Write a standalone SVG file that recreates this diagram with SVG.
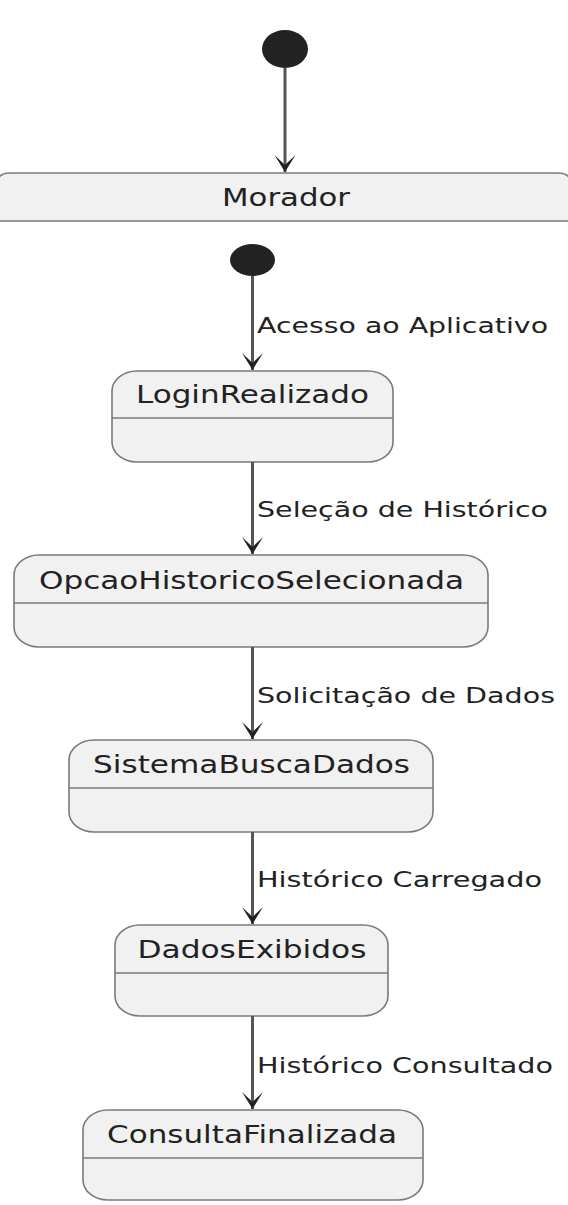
<svg xmlns="http://www.w3.org/2000/svg" width="568" height="1205" viewBox="0 0 568 1205">
<style>
.box{fill:#F1F1F1;stroke:#7a7a7a;stroke-width:1.6}
.div{stroke:#7a7a7a;stroke-width:1.6}
.name{font-family:"DejaVu Sans",sans-serif;font-size:24px;fill:#222;text-anchor:middle}
.lbl{font-family:"DejaVu Sans",sans-serif;font-size:22px;fill:#222}
.edge{stroke:#555;stroke-width:3;fill:none}
.start{fill:#222}
</style>
<defs>
<marker id="arr" markerUnits="userSpaceOnUse" markerWidth="20" markerHeight="24" viewBox="-19 -12 20 24" refX="0" refY="0" orient="auto">
<path d="M0,0 L-17,-10.5 L-7,0 L-17,10.5 Z" fill="#222"/>
</marker>
</defs>
<rect width="568" height="1205" fill="#ffffff"/>
<g id="start-outer">
<ellipse class="start" cx="285" cy="49" rx="23" ry="19"/>
</g>
<g id="Morador">
<path d="M-4,221 L-4,187 Q-4,173 10,173 L558,173 Q572,173 572,187 L572,221" class="box"/>
<line x1="-4" y1="221" x2="572" y2="221" class="div"/>
<text class="name" x="286" y="206" textLength="128" lengthAdjust="spacingAndGlyphs">Morador</text>
</g>
<g id="start-inner">
<ellipse class="start" cx="252.5" cy="260" rx="22.5" ry="16"/>
</g>
<g id="LoginRealizado">
<rect class="box" x="112" y="371" width="281" height="91" rx="25" ry="20"/>
<line class="div" x1="112" y1="418" x2="393" y2="418"/>
<text class="name" x="252.5" y="403" textLength="233" lengthAdjust="spacingAndGlyphs">LoginRealizado</text>
</g>
<g id="OpcaoHistoricoSelecionada">
<rect class="box" x="14" y="555" width="474" height="92" rx="25" ry="20"/>
<line class="div" x1="14" y1="603" x2="488" y2="603"/>
<text class="name" x="251.5" y="589" textLength="425" lengthAdjust="spacingAndGlyphs">OpcaoHistoricoSelecionada</text>
</g>
<g id="SistemaBuscaDados">
<rect class="box" x="69" y="740" width="364" height="92" rx="25" ry="20"/>
<line class="div" x1="69" y1="788" x2="433" y2="788"/>
<text class="name" x="251.5" y="773" textLength="317" lengthAdjust="spacingAndGlyphs">SistemaBuscaDados</text>
</g>
<g id="DadosExibidos">
<rect class="box" x="115" y="925" width="273" height="91" rx="25" ry="20"/>
<line class="div" x1="115" y1="973" x2="388" y2="973"/>
<text class="name" x="252" y="958" textLength="229" lengthAdjust="spacingAndGlyphs">DadosExibidos</text>
</g>
<g id="ConsultaFinalizada">
<rect class="box" x="83" y="1110" width="340" height="90" rx="25" ry="20"/>
<line class="div" x1="83" y1="1158" x2="423" y2="1158"/>
<text class="name" x="252" y="1143" textLength="290" lengthAdjust="spacingAndGlyphs">ConsultaFinalizada</text>
</g>
<g id="connectors">
<line class="edge" x1="285" y1="68" x2="285" y2="172" marker-end="url(#arr)"/>
<line class="edge" x1="252.5" y1="276" x2="252.5" y2="370" marker-end="url(#arr)"/>
<line class="edge" x1="252.5" y1="462" x2="252.5" y2="554" marker-end="url(#arr)"/>
<line class="edge" x1="252.5" y1="647" x2="252.5" y2="739" marker-end="url(#arr)"/>
<line class="edge" x1="252.5" y1="832" x2="252.5" y2="924" marker-end="url(#arr)"/>
<line class="edge" x1="252.5" y1="1016" x2="252.5" y2="1109" marker-end="url(#arr)"/>
<text class="lbl" x="257" y="333" textLength="291" lengthAdjust="spacingAndGlyphs">Acesso ao Aplicativo</text>
<text class="lbl" x="257" y="517" textLength="291" lengthAdjust="spacingAndGlyphs">Seleção de Histórico</text>
<text class="lbl" x="257" y="703" textLength="298" lengthAdjust="spacingAndGlyphs">Solicitação de Dados</text>
<text class="lbl" x="257" y="887" textLength="285" lengthAdjust="spacingAndGlyphs">Histórico Carregado</text>
<text class="lbl" x="257" y="1073" textLength="296" lengthAdjust="spacingAndGlyphs">Histórico Consultado</text>
</g>
</svg>
